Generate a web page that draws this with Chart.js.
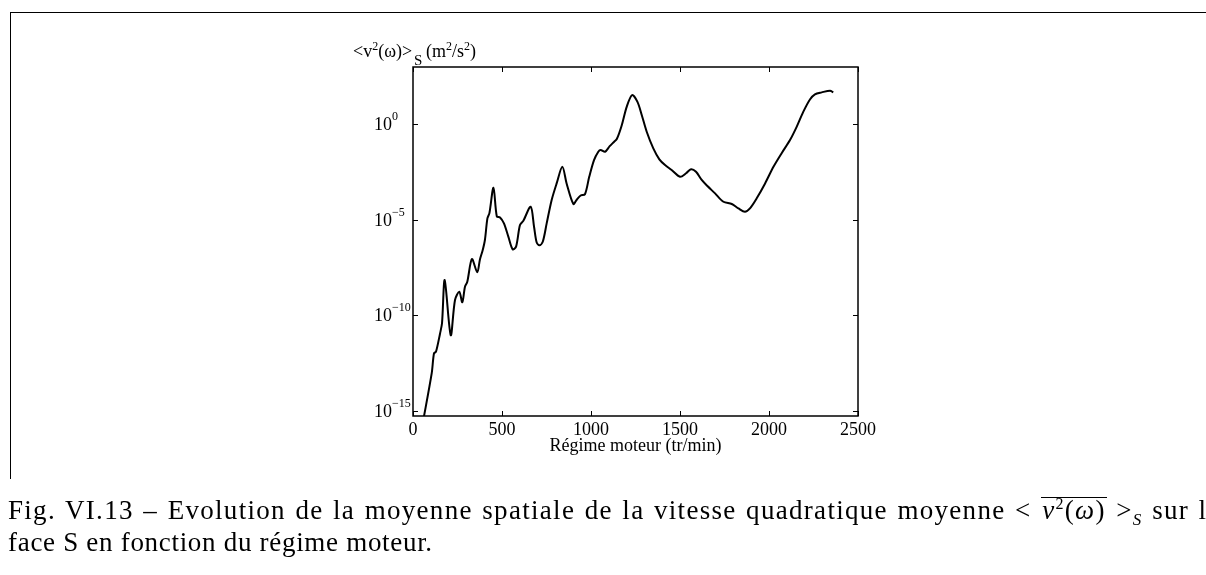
<!DOCTYPE html>
<html>
<head>
<meta charset="utf-8">
<script src="https://cdn.jsdelivr.net/npm/chart.js@4.4.1/dist/chart.umd.min.js"></script>
<style>
  html, body { margin: 0; padding: 0; background: #fff; }
  body { width: 1206px; height: 575px; position: relative; overflow: hidden; }
  #wrap { position: absolute; left: 0; top: 0; width: 1206px; height: 575px; }
  #frame { position: absolute; left: 10px; top: 12px; width: 1400px; height: 466px;
           border-top: 1.5px solid #000; border-left: 1.5px solid #000; }
  #caption { position: absolute; left: 8px; top: 494px; font-family: "Liberation Serif", serif;
             font-size: 27px; line-height: 32px; color: #000; white-space: nowrap; }
  #caption .l1 { letter-spacing: 1.3px; word-spacing: 1.5px; }
  #caption .l2 { letter-spacing: 0.7px; }
  #caption .ov { display: inline-block; border-top: 1.5px solid #000; line-height: 24px; padding: 0 1px; }
  #caption sup { font-size: 16px; vertical-align: 10px; line-height: 0; }
  #caption sub { font-size: 17px; vertical-align: -6px; line-height: 0; }
</style>
</head>
<body>
<div id="frame"></div>
<div id="wrap"><canvas id="chart"></canvas></div>
<div id="caption"><span class="l1">Fig. VI.13 – Evolution de la moyenne spatiale de la vitesse quadratique moyenne &lt; <span class="ov"><i>v</i><sup>2</sup>(<i>ω</i>)</span> &gt;<sub><i>S</i></sub> sur la</span><br><span class="l2">face S en fonction du régime moteur.</span></div>
<script>
// engine speed (tr/min) and spatial mean of squared velocity (m²/s²)
const rpm = [55, 105, 118, 129, 152, 163, 178, 212, 236, 260, 277, 292, 305, 331, 361, 376, 391, 404,
  418, 429, 452, 471, 489, 511, 536, 560, 579, 601, 620, 661, 680, 695, 710, 729, 751, 779, 807, 839,
  863, 901, 919, 942, 966, 990, 1017, 1041, 1054, 1079, 1105, 1129, 1145, 1172, 1201, 1231, 1261,
  1285, 1313, 1350, 1384, 1416, 1453, 1500, 1534, 1562, 1590, 1622, 1654, 1697, 1744, 1791, 1828,
  1865, 1893, 1931, 1978, 2025, 2072, 2118, 2156, 2193, 2230, 2258, 2296, 2343, 2361];
const v2 = [2.4e-16, 9.3e-14, 1.05e-12, 1.26e-12, 1.15e-11, 3.9e-11, 7.1e-9, 9.3e-12, 6.5e-10, 1.74e-9,
  4.9e-10, 3.2e-9, 5.8e-9, 8.9e-8, 1.8e-8, 8.5e-8, 2.5e-7, 8.9e-7,
  1.2e-5, 2.2e-5, 4.8e-4, 1.5e-5, 1.35e-5, 6.6e-6, 1.3e-6, 2.9e-7, 4.0e-7, 5.4e-6, 9.1e-6, 4.9e-5,
  4.4e-6, 6.5e-7, 4.7e-7, 7.2e-7, 6.6e-6, 1.1e-4, 8.1e-4, 6.0e-3,
  8.1e-4, 6.8e-5, 1.1e-4, 1.9e-4, 2.2e-4, 1.8e-3, 1.35e-2, 3.7e-2, 4.6e-2, 3.7e-2, 7.2e-2, 0.12,
  0.17, 0.85, 8.5, 34, 15,
  3.1, 0.41, 0.055, 0.0148, 7.4e-3, 4.1e-3, 1.8e-3, 2.75e-3, 4.5e-3, 3.3e-3, 1.23e-3, 5.9e-4, 2.45e-4,
  8.9e-5, 6.8e-5, 4.0e-5,
  2.7e-5, 4.0e-5, 1.35e-4, 8.1e-4, 6.0e-3, 3.2e-2, 0.15, 0.76, 4.6, 20, 37, 47, 58, 47];

const xTicks = [0, 500, 1000, 1500, 2000, 2500];
const yTicks = [1e-15, 1e-10, 1e-5, 1];
const yExp = ['−15', '−10', '−5', '0'];

const serif = '"Liberation Serif", "Times New Roman", serif';

function runs(ctx, x, y, parts) {
  parts.forEach(p => {
    ctx.font = p.size + 'px ' + serif;
    ctx.fillText(p.t, x, y + (p.dy || 0));
    x += ctx.measureText(p.t).width;
  });
  return x;
}

const axesPlugin = {
  id: 'axesFrame',
  afterDraw(chart) {
    const { ctx, chartArea: a, scales: { x, y } } = chart;
    ctx.save();
    ctx.strokeStyle = '#000';
    ctx.fillStyle = '#000';
    ctx.lineWidth = 1.5;
    ctx.strokeRect(a.left, a.top, a.right - a.left, a.bottom - a.top);

    // inward ticks on all four sides
    ctx.lineWidth = 1;
    const tl = 5;
    ctx.beginPath();
    xTicks.forEach(v => {
      const px = Math.round(x.getPixelForValue(v)) + 0.5;
      ctx.moveTo(px, a.bottom); ctx.lineTo(px, a.bottom - tl);
      ctx.moveTo(px, a.top); ctx.lineTo(px, a.top + tl);
    });
    yTicks.forEach(v => {
      const py = Math.round(y.getPixelForValue(v)) + 0.5;
      ctx.moveTo(a.left, py); ctx.lineTo(a.left + tl, py);
      ctx.moveTo(a.right, py); ctx.lineTo(a.right - tl, py);
    });
    ctx.stroke();

    // x tick labels and title
    ctx.textAlign = 'center';
    ctx.textBaseline = 'alphabetic';
    ctx.font = '18px ' + serif;
    xTicks.forEach(v => ctx.fillText(String(v), x.getPixelForValue(v), a.bottom + 19));
    ctx.fillText('Régime moteur (tr/min)', (a.left + a.right) / 2, a.bottom + 35);

    // y tick labels as powers of ten
    ctx.textAlign = 'left';
    yTicks.forEach((v, i) => {
      const py = y.getPixelForValue(v);
      runs(ctx, a.left - 39, py + 6, [
        { t: '10', size: 18 },
        { t: yExp[i], size: 12, dy: -10 }
      ]);
    });

    // y axis title above the frame
    const yt = a.top - 10;
    runs(ctx, a.left - 60, yt, [
      { t: '<v', size: 18 }, { t: '2', size: 12, dy: -7 }, { t: '(ω)>', size: 18 }
    ]);
    runs(ctx, a.left + 1, yt + 8, [{ t: 'S', size: 15 }]);
    runs(ctx, a.left + 13, yt, [
      { t: '(m', size: 18 }, { t: '2', size: 12, dy: -7 }, { t: '/s', size: 18 },
      { t: '2', size: 12, dy: -7 }, { t: ')', size: 18 }
    ]);
    ctx.restore();
  }
};

new Chart(document.getElementById('chart'), {
  type: 'line',
  data: {
    labels: rpm,
    datasets: [{
      data: rpm.map((r, i) => ({ x: r, y: v2[i] })),
      borderColor: '#000',
      borderWidth: 2,
      pointRadius: 0,
      tension: 0.3,
      fill: false
    }]
  },
  options: {
    responsive: true,
    maintainAspectRatio: false,
    animation: false,
    events: [],
    layout: { padding: { left: 413, right: 348, top: 67, bottom: 159 } },
    plugins: { legend: { display: false }, tooltip: { enabled: false } },
    scales: {
      x: {
        type: 'linear', min: 0, max: 2500,
        afterBuildTicks: s => { s.ticks = xTicks.map(v => ({ value: v })); },
        ticks: { display: false },
        grid: { display: false, drawTicks: false },
        border: { display: false }
      },
      y: {
        type: 'logarithmic', min: 5.5e-16, max: 1000,
        afterBuildTicks: s => { s.ticks = yTicks.map(v => ({ value: v })); },
        ticks: { display: false },
        grid: { display: false, drawTicks: false },
        border: { display: false }
      }
    }
  },
  plugins: [axesPlugin]
});
</script>
</body>
</html>
